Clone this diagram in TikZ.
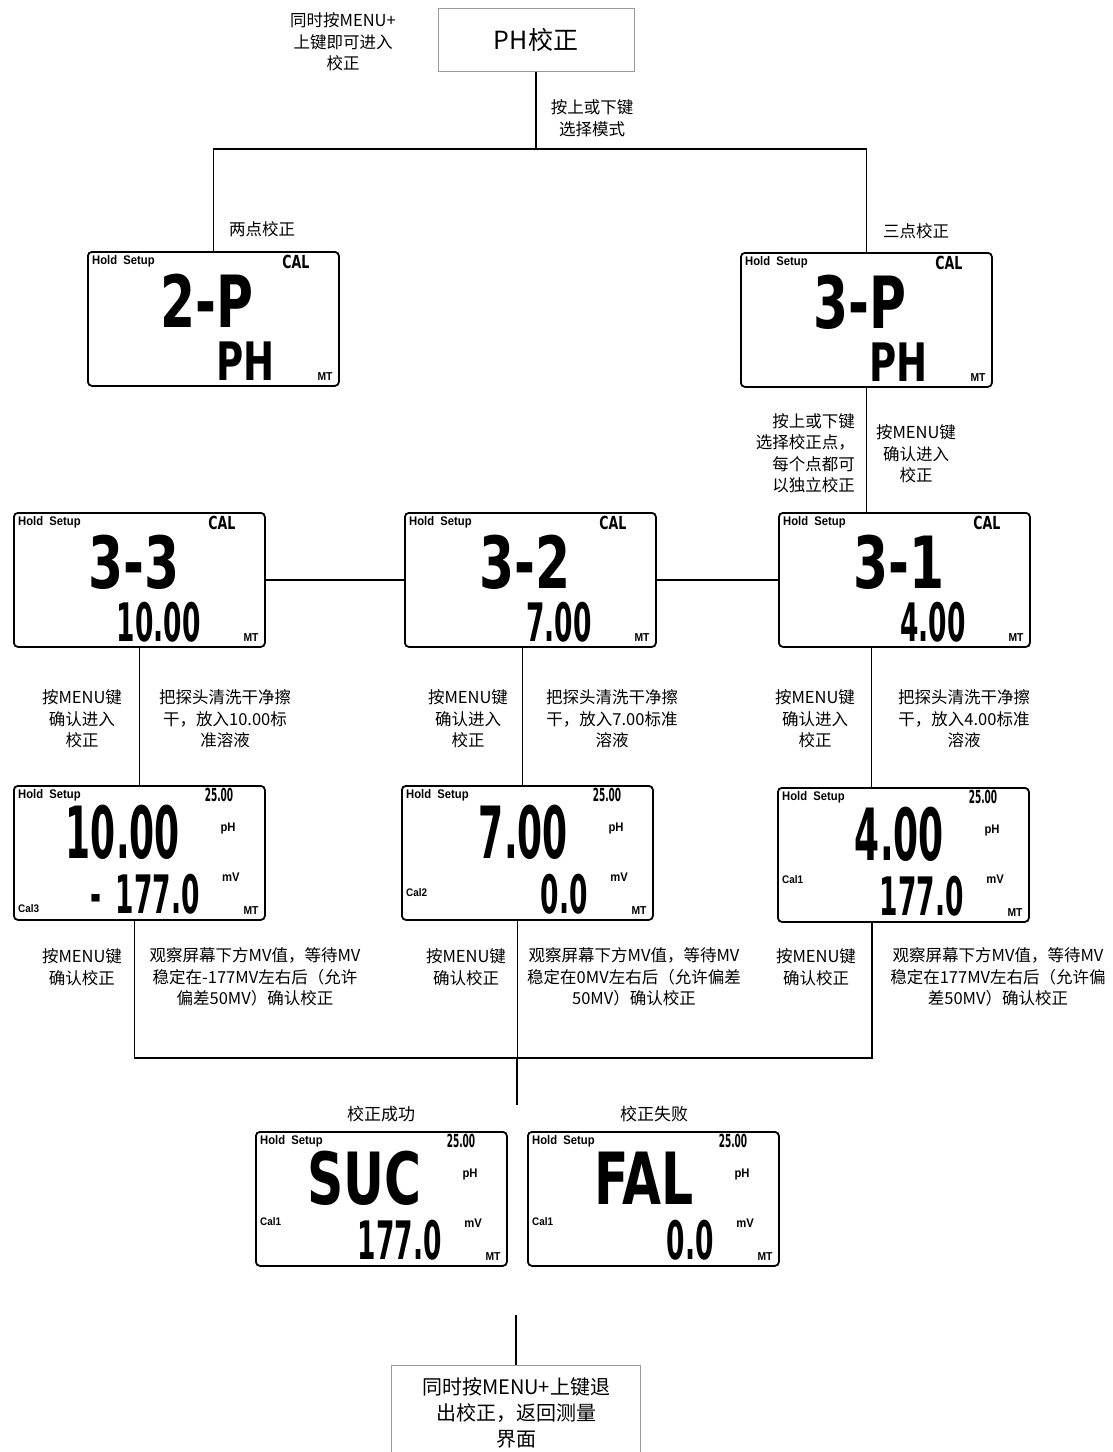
\documentclass[tikz,border=0pt]{standalone}
\usepackage{fontspec}
\setmainfont{Noto Sans CJK SC}
\newfontfamily\lcdfont[FakeStretch=0.5]{DejaVu Sans}
\newfontfamily\lcdwordfont[FakeStretch=0.7]{DejaVu Sans}
\newfontfamily\tagfont[FakeStretch=0.9]{Liberation Sans}

% LCD frame with the fixed marks
\newcommand{\lcdframe}[3]{%
  \node[lcd] (#1) at (#2,#3) {};
  \node[tag, anchor=west] (#1-hold) at ([shift={(5,10)}]#1.north west) {Hold\ \ Setup};
  \node[tag, font=\tagfont\bfseries\fontsize{11.5}{11.5}\selectfont] (#1-mt) at ([shift={(238,126)}]#1.north west) {MT};
}
% mode / point screen
\newcommand{\calscreen}[5]{%
  \lcdframe{#1}{#2}{#3}
  \node[segsmall, font=\lcdwordfont\bfseries\fontsize{18}{18}\selectfont] (#1-cal) at ([shift={(209,11)}]#1.north west) {CAL};
  \node[bigword, anchor=east] (#1-mode) at ([shift={(167,50)}]#1.north west) {#4};
  \node[midnum, anchor=east] (#1-val) at ([shift={(188,110)}]#1.north west) {#5};
}
% reading screen
\newcommand{\readscreen}[7]{%
  \lcdframe{#1}{#2}{#3}
  \node[segsmall] (#1-temp) at ([shift={(206,10)}]#1.north west) {25.00};
  \node[bignum, anchor=east] (#1-main) at ([shift={(167,47)}]#1.north west) {#4};
  \node[tag] (#1-ph) at ([shift={(215,43)}]#1.north west) {pH};
  \node[tag] (#1-mv) at ([shift={(218,92)}]#1.north west) {mV};
  \node[midnum, anchor=east] (#1-mvval) at ([shift={(187,109)}]#1.north west) {#5};
  \node[tag, anchor=west, font=\tagfont\bfseries\fontsize{11}{11}\selectfont] (#1-cal) at ([shift={(5,#7)}]#1.north west) {#6};
}

\begin{document}
\begin{tikzpicture}[x=1pt, y=-1pt]
  \tikzstyle{lcd}=[draw, line width=1.8pt, rounded corners=4pt, minimum width=251pt, minimum height=134pt, anchor=north west, inner sep=0pt]
  \tikzstyle{tag}=[inner sep=0pt, font=\tagfont\bfseries\fontsize{12.5}{12.5}\selectfont]
  \tikzstyle{segsmall}=[inner sep=0pt, font=\lcdfont\bfseries\fontsize{18}{18}\selectfont]
  \tikzstyle{bigword}=[inner sep=0pt, font=\lcdwordfont\bfseries\fontsize{72}{72}\selectfont]
  \tikzstyle{bignum}=[inner sep=0pt, font=\lcdfont\bfseries\fontsize{72}{72}\selectfont]
  \tikzstyle{midnum}=[inner sep=0pt, font=\lcdfont\bfseries\fontsize{53}{53}\selectfont]
  \tikzstyle{note}=[align=center, inner sep=0pt, font=\fontsize{16.5}{21.5}\selectfont]
  \tikzstyle{wire}=[line width=1.3pt]
  \tikzstyle{plainbox}=[draw=gray!80, line width=1pt, inner sep=0pt]

  \useasboundingbox (0,0) rectangle (1112,1452);

  % top
  \node[plainbox, minimum width=196pt, minimum height=63pt, font=\fontsize{25}{25}\selectfont] (phcal) at (536,39.5) {PH校正};
  \node[note] (enter) at (343,42) {同时按MENU+\\上键即可进入\\校正};
  \node[note] (modekey) at (592,118) {按上或下键\\选择模式};
  \node[note] (twolab) at (262,229) {两点校正};
  \node[note] (threelab) at (916,231) {三点校正};

  % screens
  \calscreen{twop}{87}{251}{2-P}{{\lcdwordfont PH}}
  \calscreen{threep}{740}{252}{3-P}{{\lcdwordfont PH}}
  \calscreen{c33}{13}{512}{3-3}{10.00}
  \calscreen{c32}{404}{512}{3-2}{7.00}
  \calscreen{c31}{778}{512}{3-1}{4.00}
  \readscreen{r10}{13}{785}{10.00}{-\hspace{14pt}177.0}{Cal3}{124}
  \readscreen{r7}{401}{785}{7.00}{0.0}{Cal2}{108}
  \readscreen{r4}{777}{787}{4.00}{177.0}{Cal1}{93}
  \readscreen{suc}{255}{1131}{{\lcdwordfont SUC}}{177.0}{Cal1}{91}
  \readscreen{fal}{527}{1131}{{\lcdwordfont FAL}}{0.0}{Cal1}{91}

  % notes
  \node[note, align=right, anchor=east] (pointkey) at (855,453) {按上或下键\\选择校正点，\\每个点都可\\以独立校正};
  \node[note] (menu3) at (916,454) {按MENU键\\确认进入\\校正};
  \node[note] (menu33) at (82,719) {按MENU键\\确认进入\\校正};
  \node[note] (clean33) at (225,719) {把探头清洗干净擦\\干，放入10.00标\\准溶液};
  \node[note] (menu32) at (468,719) {按MENU键\\确认进入\\校正};
  \node[note] (clean32) at (612,719) {把探头清洗干净擦\\干，放入7.00标准\\溶液};
  \node[note] (menu31) at (815,719) {按MENU键\\确认进入\\校正};
  \node[note] (clean31) at (964,719) {把探头清洗干净擦\\干，放入4.00标准\\溶液};
  \node[note] (conf10) at (82,967) {按MENU键\\确认校正};
  \node[note] (watch10) at (255,977) {观察屏幕下方MV值，等待MV\\稳定在-177MV左右后（允许\\偏差50MV）确认校正};
  \node[note] (conf7) at (466,967) {按MENU键\\确认校正};
  \node[note] (watch7) at (634,977) {观察屏幕下方MV值，等待MV\\稳定在0MV左右后（允许偏差\\50MV）确认校正};
  \node[note] (conf4) at (816,967) {按MENU键\\确认校正};
  \node[note] (watch4) at (998,977) {观察屏幕下方MV值，等待MV\\稳定在177MV左右后（允许偏\\差50MV）确认校正};
  \node[note, font=\fontsize{17}{17}\selectfont] (oklab) at (381,1114) {校正成功};
  \node[note, font=\fontsize{17}{17}\selectfont] (faillab) at (654,1114) {校正失败};

  % exit
  \node[plainbox, minimum width=249pt, minimum height=96pt, align=center, font=\fontsize{20}{26}\selectfont] (exitbox) at (516,1413) {同时按MENU+上键退\\出校正，返回测量\\界面};

  % connectors
  \coordinate (fork) at (536,149);
  \draw[wire] (phcal.south) -- (fork);
  \draw[wire] (twop.north) -- (twop.north |- fork) -- (threep.north |- fork) -- (threep.north);
  \draw[wire] (threep.south) -- (threep.south |- c31.north);
  \draw[wire] (c33.east) -- (c32.west);
  \draw[wire] (c32.east) -- (c31.west);
  \draw[wire] (c33.south) -- (r10.north);
  \coordinate (u32) at ([xshift=-8]c32.south);
  \coordinate (u31) at ([xshift=-33]c31.south);
  \draw[wire] (u32) -- (u32 |- r7.north);
  \draw[wire] (u31) -- (u31 |- r4.north);
  \coordinate (merge) at (517,1058);
  \coordinate (d10) at ([xshift=-5]r10.south);
  \coordinate (d7) at ([xshift=-10]r7.south);
  \coordinate (d4) at ([xshift=-31.5]r4.south);
  \draw[wire] (d10) -- (d10 |- merge) -- (d4 |- merge) -- (d4);
  \draw[wire] (d7) -- (d7 |- merge);
  \coordinate (mergeend) at (517,1105);
  \draw[wire] (merge) -- (mergeend);
  \coordinate (exitin) at (516,1315);
  \draw[wire] (exitin) -- (exitbox.north);
\end{tikzpicture}
\end{document}
